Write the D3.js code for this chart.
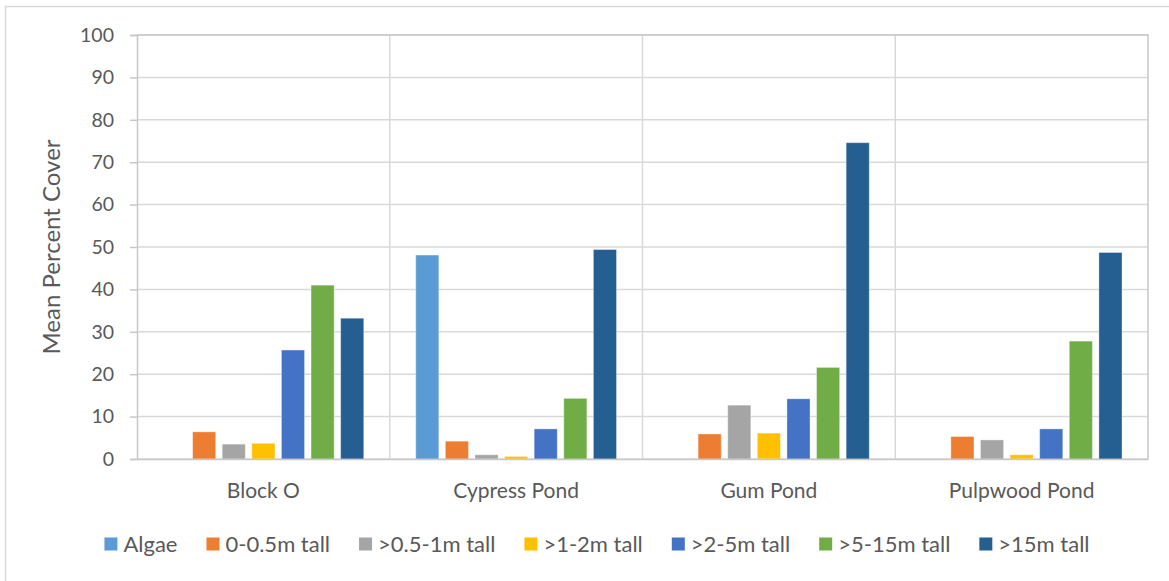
<!DOCTYPE html>
<html>
<head>
<meta charset="utf-8">
<script src="https://cdn.jsdelivr.net/npm/d3@7"></script>
<style>
  html, body { margin: 0; padding: 0; background: #fff; }
  svg { display: block; }
  text { font-family: Lato, "Open Sans", sans-serif; fill: #595959; }
</style>
</head>
<body>
<svg id="chart" width="1169" height="581"></svg>
<script>
// Sites along the x axis
const sites = ["Block O", "Cypress Pond", "Gum Pond", "Pulpwood Pond"];
// Vegetation layers (one bar per layer in each site)
const layers = ["Algae", "0-0.5m tall", ">0.5-1m tall", ">1-2m tall", ">2-5m tall", ">5-15m tall", ">15m tall"];
const layerColors = ["#5b9bd5", "#ed7d31", "#a5a5a5", "#ffc000", "#4472c4", "#70ad47", "#255e91"];

// Mean percent cover per layer, in site order
const algae      = [0, 48.1, 0, 0];
const h0to05     = [6.4, 4.2, 5.9, 5.3];
const h05to1     = [3.5, 1.0, 12.7, 4.5];
const h1to2      = [3.7, 0.6, 6.1, 1.0];
const h2to5      = [25.7, 7.1, 14.2, 7.1];
const h5to15     = [41.0, 14.3, 21.6, 27.8];
const h15plus    = [33.2, 49.4, 74.6, 48.7];
const seriesValues = [algae, h0to05, h05to1, h1to2, h2to5, h5to15, h15plus];

const yTicks = [0, 10, 20, 30, 40, 50, 60, 70, 80, 90, 100];
const yTitle = "Mean Percent Cover";

const svg = d3.select("#chart");
const plot = { left: 137, right: 1148, top: 35, bottom: 459 };

// Outer chart frame
svg.append("rect")
  .attr("x", 5.5).attr("y", 6.5)
  .attr("width", 1175).attr("height", 590)
  .attr("fill", "none").attr("stroke", "#d9d9d9").attr("stroke-width", 1.5);

const x0 = d3.scaleBand().domain(sites).range([plot.left, plot.right]).padding(0);
const catPad = 26;
const x1 = d3.scaleBand().domain(layers)
  .range([catPad, x0.bandwidth() - catPad])
  .paddingInner(0.22).paddingOuter(0);
const y = d3.scaleLinear().domain([0, 100]).range([plot.bottom, plot.top]);

// Horizontal gridlines
svg.append("g").selectAll("line").data(yTicks).join("line")
  .attr("x1", plot.left).attr("x2", plot.right)
  .attr("y1", d => y(d)).attr("y2", d => y(d))
  .attr("stroke", "#d9d9d9").attr("stroke-width", 1.5);

// Vertical separators between sites
svg.append("g").selectAll("line").data(sites.slice(1)).join("line")
  .attr("x1", d => x0(d)).attr("x2", d => x0(d))
  .attr("y1", plot.top).attr("y2", plot.bottom)
  .attr("stroke", "#d9d9d9").attr("stroke-width", 1.5);

// Plot frame (top and right edges)
svg.append("path")
  .attr("d", `M${plot.left},${plot.top}H${plot.right}V${plot.bottom}`)
  .attr("fill", "none").attr("stroke", "#c8c8c8").attr("stroke-width", 1.5);

// Bars
const barData = [];
sites.forEach((s, i) => {
  layers.forEach((l, j) => {
    barData.push({ site: s, layer: l, value: seriesValues[j][i], color: layerColors[j] });
  });
});
svg.append("g").selectAll("rect").data(barData.filter(d => d.value > 0)).join("rect")
  .attr("x", d => x0(d.site) + x1(d.layer))
  .attr("width", x1.bandwidth())
  .attr("y", d => y(d.value))
  .attr("height", d => y(0) - y(d.value))
  .attr("fill", d => d.color)
  .attr("stroke", "#ffffff").attr("stroke-opacity", 0.35).attr("stroke-width", 1);

// Y axis
const yAxis = d3.axisLeft(y).tickValues(yTicks).tickSize(7).tickPadding(16);
const gy = svg.append("g").attr("transform", `translate(${plot.left},0)`).call(yAxis);
gy.select(".domain").attr("stroke", "#c8c8c8").attr("stroke-width", 1.5);
gy.selectAll(".tick line").attr("stroke", "#c8c8c8").attr("stroke-width", 1.5);
gy.selectAll(".tick text").style("font-family", "Lato, sans-serif")
  .style("font-size", "19.5px").attr("fill", "#595959");

// X axis baseline and site labels
const xAxis = d3.axisBottom(x0).tickSize(0).tickPadding(24);
const gx = svg.append("g").attr("transform", `translate(0,${plot.bottom})`).call(xAxis);
gx.select(".domain").attr("stroke", "#c8c8c8").attr("stroke-width", 1.5);
gx.selectAll(".tick text").style("font-family", "Lato, sans-serif")
  .style("font-size", "21px").attr("fill", "#595959");

// Y axis title
svg.append("text")
  .attr("transform", `translate(60,${(plot.top + plot.bottom) / 2}) rotate(-90)`)
  .attr("text-anchor", "middle")
  .style("font-size", "24px")
  .text(yTitle);

// Legend laid out left to right, centred under the chart
const legend = svg.append("g");
const sw = 13, swGap = 6, itemGap = 29, legendY = 544;
const items = layers.map((l, j) => {
  const g = legend.append("g");
  g.append("rect").attr("width", sw).attr("height", sw).attr("y", -sw / 2).attr("fill", layerColors[j]);
  const t = g.append("text").attr("x", sw + swGap).attr("dy", "0.35em")
    .style("font-size", "22px").text(l);
  return { g, w: sw + swGap + t.node().getComputedTextLength() };
});
const totalW = d3.sum(items, d => d.w) + itemGap * (items.length - 1);
let cx = 597 - totalW / 2;
items.forEach(it => {
  it.g.attr("transform", `translate(${cx},${legendY})`);
  cx += it.w + itemGap;
});
</script>
</body>
</html>
